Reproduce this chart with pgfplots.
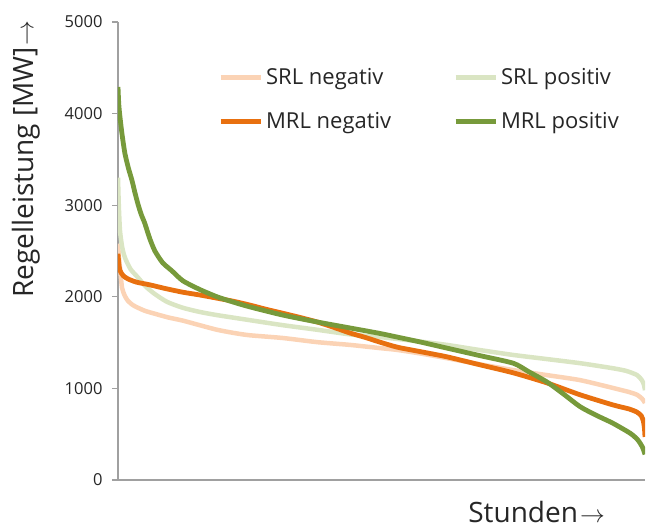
\documentclass[border=0pt]{standalone}
\usepackage{fontspec}
\setmainfont{Open Sans}
\usepackage{pgfplots}
\pgfplotsset{compat=1.18}

\definecolor{srlneg}{HTML}{FBD3B5}
\definecolor{mrlneg}{HTML}{E8700F}
\definecolor{srlpos}{HTML}{DAE5C3}
\definecolor{mrlpos}{HTML}{779A3B}
\definecolor{axgray}{HTML}{A0A0A0}

\begin{document}
\begin{tikzpicture}
\begin{axis}[
  scale only axis,
  width=527bp, height=458bp,
  xmin=0, xmax=100, ymin=0, ymax=5000,
  axis lines*=left,
  axis line style={axgray, line width=1.3bp},
  xtick=\empty,
  ytick={0,1000,2000,3000,4000,5000},
  tick align=outside,
  major tick length=6bp,
  ytick style={axgray, line width=1.3bp},
  /pgf/number format/assume math mode=true,
  /pgf/number format/1000 sep={},
  yticklabel style={font=\fontsize{16.5bp}{18bp}\selectfont, text=black!85, xshift=-6bp},
  legend columns=2,
  legend cell align=left,
  legend style={draw=none, fill=none, at={(rel axis cs:0.19,0.905)}, anchor=north west,
    font=\fontsize{22bp}{24bp}\selectfont, text=black!85,
    row sep=20bp, inner sep=0pt,
    /tikz/column 2/.style={column sep=59bp},
    nodes={inner sep=3bp}},
  legend image code/.code={\draw[#1] (0bp,0bp) -- (40bp,0bp);},
  every axis plot/.append style={smooth, tension=0.4},
]

\addplot[srlneg, line width=4.5bp] coordinates {
(0,2580) (0.2,2420) (0.38,2320) (0.76,2100) (1.3,2010) (1.9,1955) (2.8,1910) (3.8,1880)
(5.2,1845) (7.0,1815) (9.5,1775) (12.3,1740) (15.5,1690)
(18.8,1640) (22,1605) (25.0,1580) (31.3,1550) (37.8,1505) (44.0,1475) (49.7,1440)
(53.0,1420) (57.5,1380) (62.4,1330) (68.5,1265) (75.0,1200) (81.4,1145) (87.7,1090) (93.9,1005)
(97,960) (98.5,930) (99.4,890) (99.8,860) (100,840)
};
\addlegendentry{SRL negativ}

\addplot[srlpos, line width=4.5bp] coordinates {
(0,3300) (0.15,3000) (0.38,2720) (0.8,2540) (1.33,2425) (2.4,2300) (3.8,2210)
(5.3,2110) (7.0,2030) (9.3,1945) (12.3,1880) (15.5,1835)
(18.8,1800) (25.0,1745) (31.3,1690) (37.8,1640) (44.0,1590) (49.7,1560)
(53.0,1540) (57.5,1510) (62.4,1475) (68.5,1420) (75.0,1365) (81.4,1320) (87.7,1275)
(93.9,1220) (96.5,1190) (98.5,1145) (99.4,1090) (99.8,1040) (100,980)
};
\addlegendentry{SRL positiv}

\addplot[mrlneg, line width=4.8bp] coordinates {
(0,2470) (0.15,2360) (0.38,2285) (1.0,2230) (1.9,2195) (3.5,2160) (6.07,2130)
(9.0,2090) (12.3,2050) (15.5,2020) (18.8,1985)
(22,1950) (25.0,1910) (28,1865) (31.3,1820) (34.5,1775) (37.8,1725) (41,1665) (44.0,1605)
(47,1555) (49.7,1505) (53.0,1450) (57.5,1400)
(62.4,1345) (68.5,1260) (75.0,1170) (81.4,1060) (87.7,930) (93.9,820) (97,775) (98.5,740)
(99.3,700) (99.7,640) (99.9,560) (100,470)
};
\addlegendentry{MRL negativ}

\addplot[mrlpos, line width=4.8bp] coordinates {
(0,4290) (0.15,4100) (0.38,3960) (0.8,3760) (1.33,3560) (2.0,3400) (2.66,3270) (3.2,3140)
(3.8,3010) (4.4,2900) (5.1,2800) (6.0,2640) (7.0,2500) (8.5,2370)
(10.2,2285) (12.3,2175) (15.5,2080) (18.8,2000) (22,1940) (25.0,1890) (31.3,1800) (37.8,1725)
(44.0,1660) (49.7,1600) (53.0,1560) (57.5,1505) (62.4,1440) (68.5,1360) (75.0,1275)
(78,1180) (81.4,1070) (84.5,940)
(87.7,800) (90.8,705) (93.9,620) (97.2,510) (98.6,440) (99.5,360) (100,280)
};
\addlegendentry{MRL positiv}
\end{axis}
\node[rotate=90, anchor=east, font=\fontsize{28bp}{30bp}\selectfont, text=black!85, inner sep=0pt]
  at (-92bp,459bp) {Regelleistung [MW]\kern1bp$\rightarrow$};
\node[anchor=base east, font=\fontsize{28bp}{30bp}\selectfont, text=black!85, inner sep=0pt]
  at (487bp,-42bp) {Stunden\kern2bp$\rightarrow$};
\pgfresetboundingbox
\path (-118bp,-48bp) rectangle (528bp,480bp);
\end{tikzpicture}
\end{document}
